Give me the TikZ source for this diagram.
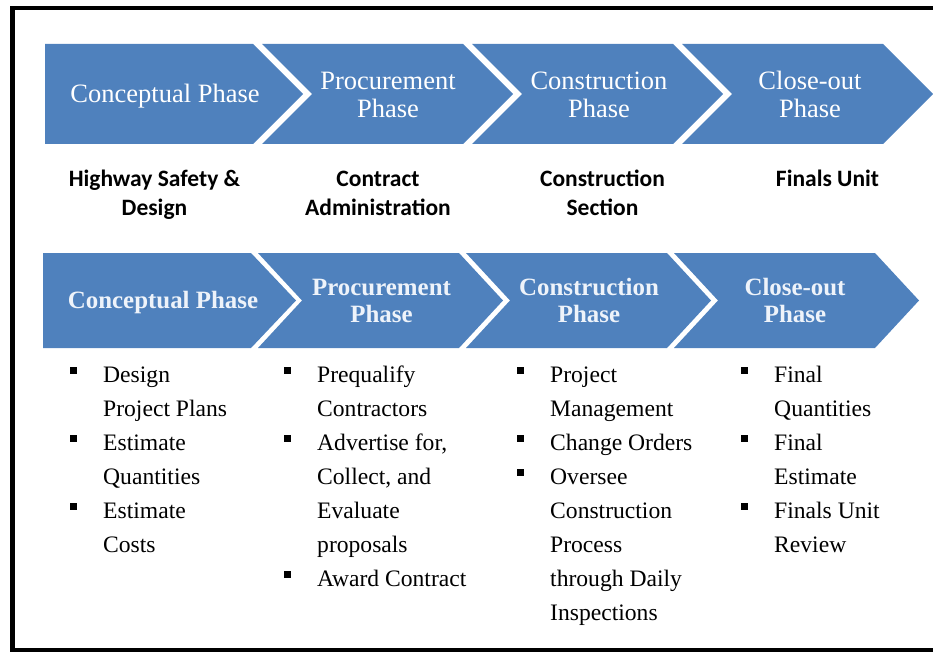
\documentclass[tikz,border=0pt]{standalone}
\usepackage{fontspec}
\setmainfont{Liberation Serif}
\newfontfamily\calib{Carlito}
\definecolor{chev}{HTML}{4F81BD}
\definecolor{chevtxt}{HTML}{EEF3FA}
\begin{document}
\begin{tikzpicture}[x=1pt,y=-1pt,
  toptxt/.style={text=white,font=\fontsize{26.5}{28}\selectfont,anchor=base,inner sep=0pt},
  midtxt/.style={text=black,font=\calib\bfseries\fontsize{23.5}{28}\selectfont,anchor=base,inner sep=0pt},
  bottxt/.style={text=chevtxt,font=\bfseries\fontsize{24.9}{28}\selectfont,anchor=base,inner sep=0pt},
  itemtxt/.style={text=black,font=\fontsize{23.6}{34}\selectfont,anchor=base west,inner sep=0pt},
  bul/.style={fill=black,minimum size=7pt,inner sep=0pt,outer sep=0pt,anchor=north west},
  chevfill/.style={fill=chev}]
\useasboundingbox (0,0) rectangle (933,652);
% frame
\draw[line width=4.5pt,black] (12.5,8) rectangle (950,650);

% top row chevrons
\fill[chevfill] (45,44) -- (253,44) -- (303,94) -- (253,144) -- (45,144) -- cycle;
\foreach \i in {1,2,3}{
  \pgfmathsetmacro{\L}{52+210*\i}
  \pgfmathsetmacro{\R}{253+210*\i}
  \fill[chevfill] (\L,44) -- (\R,44) -- (\R+50,94) -- (\R,144) -- (\L,144) -- (\L+50,94) -- cycle;
}
\node[toptxt] (t1) at (165,102.5) {Conceptual Phase};
\node[toptxt] (t2a) at (388,89.5) {Procurement};
\node[toptxt] (t2b) at (388,117.5) {Phase};
\node[toptxt] (t3a) at (599,89.5) {Construction};
\node[toptxt] (t3b) at (599,117.5) {Phase};
\node[toptxt] (t4a) at (810,89.5) {Close-out};
\node[toptxt] (t4b) at (810,117.5) {Phase};

% middle labels
\node[midtxt] (m1a) at (154.5,187) {Highway Safety \&};
\node[midtxt] (m1b) at (154.5,215) {Design};
\node[midtxt] (m2a) at (378,187) {Contract};
\node[midtxt] (m2b) at (378,215) {Administration};
\node[midtxt] (m3a) at (602.5,187) {Construction};
\node[midtxt] (m3b) at (602.5,215) {Section};
\node[midtxt] (m4a) at (827.5,187) {Finals Unit};

% bottom row chevrons
\fill[chevfill] (43,253) -- (251,253) -- (296,300.5) -- (251,348) -- (43,348) -- cycle;
\foreach \i in {1,2,3}{
  \pgfmathsetmacro{\R}{251+208*\i}
  \pgfmathsetmacro{\L}{251+208*(\i-1)+7}
  \fill[chevfill] (\L,253) -- (\R,253) -- (\R+44,300.5) -- (\R,348) -- (\L,348) -- (\L+44,300.5) -- cycle;
}
\node[bottxt] (b1) at (163,308.5) {Conceptual Phase};
\node[bottxt] (b2a) at (381.5,295) {Procurement};
\node[bottxt] (b2b) at (381.5,322) {Phase};
\node[bottxt] (b3a) at (589,295) {Construction};
\node[bottxt] (b3b) at (589,322) {Phase};
\node[bottxt] (b4a) at (795,295) {Close-out};
\node[bottxt] (b4b) at (795,322) {Phase};

% column 1
\node[bul] (c1s1) at (69.5,366.5) {};
\node[bul] (c1s2) at (69.5,434.5) {};
\node[bul] (c1s3) at (69.5,502.5) {};
\node[itemtxt] (c1l1) at (103,382) {Design};
\node[itemtxt] (c1l2) at (103,416) {Project Plans};
\node[itemtxt] (c1l3) at (103,450) {Estimate};
\node[itemtxt] (c1l4) at (103,484) {Quantities};
\node[itemtxt] (c1l5) at (103,518) {Estimate};
\node[itemtxt] (c1l6) at (103,552) {Costs};

% column 2
\node[bul] (c2s1) at (283.5,366.5) {};
\node[bul] (c2s2) at (283.5,434.5) {};
\node[bul] (c2s3) at (283.5,570.5) {};
\node[itemtxt] (c2l1) at (317,382) {Prequalify};
\node[itemtxt] (c2l2) at (317,416) {Contractors};
\node[itemtxt] (c2l3) at (317,450) {Advertise for,};
\node[itemtxt] (c2l4) at (317,484) {Collect, and};
\node[itemtxt] (c2l5) at (317,518) {Evaluate};
\node[itemtxt] (c2l6) at (317,552) {proposals};
\node[itemtxt] (c2l7) at (317,586) {Award Contract};

% column 3
\node[bul] (c3s1) at (516.5,366.5) {};
\node[bul] (c3s2) at (516.5,434.5) {};
\node[bul] (c3s3) at (516.5,468.5) {};
\node[itemtxt] (c3l1) at (550,382) {Project};
\node[itemtxt] (c3l2) at (550,416) {Management};
\node[itemtxt] (c3l3) at (550,450) {Change Orders};
\node[itemtxt] (c3l4) at (550,484) {Oversee};
\node[itemtxt] (c3l5) at (550,518) {Construction};
\node[itemtxt] (c3l6) at (550,552) {Process};
\node[itemtxt] (c3l7) at (550,586) {through Daily};
\node[itemtxt] (c3l8) at (550,620) {Inspections};

% column 4
\node[bul] (c4s1) at (740.5,366.5) {};
\node[bul] (c4s2) at (740.5,434.5) {};
\node[bul] (c4s3) at (740.5,502.5) {};
\node[itemtxt] (c4l1) at (774,382) {Final};
\node[itemtxt] (c4l2) at (774,416) {Quantities};
\node[itemtxt] (c4l3) at (774,450) {Final};
\node[itemtxt] (c4l4) at (774,484) {Estimate};
\node[itemtxt] (c4l5) at (774,518) {Finals Unit};
\node[itemtxt] (c4l6) at (774,552) {Review};
\end{tikzpicture}
\end{document}
